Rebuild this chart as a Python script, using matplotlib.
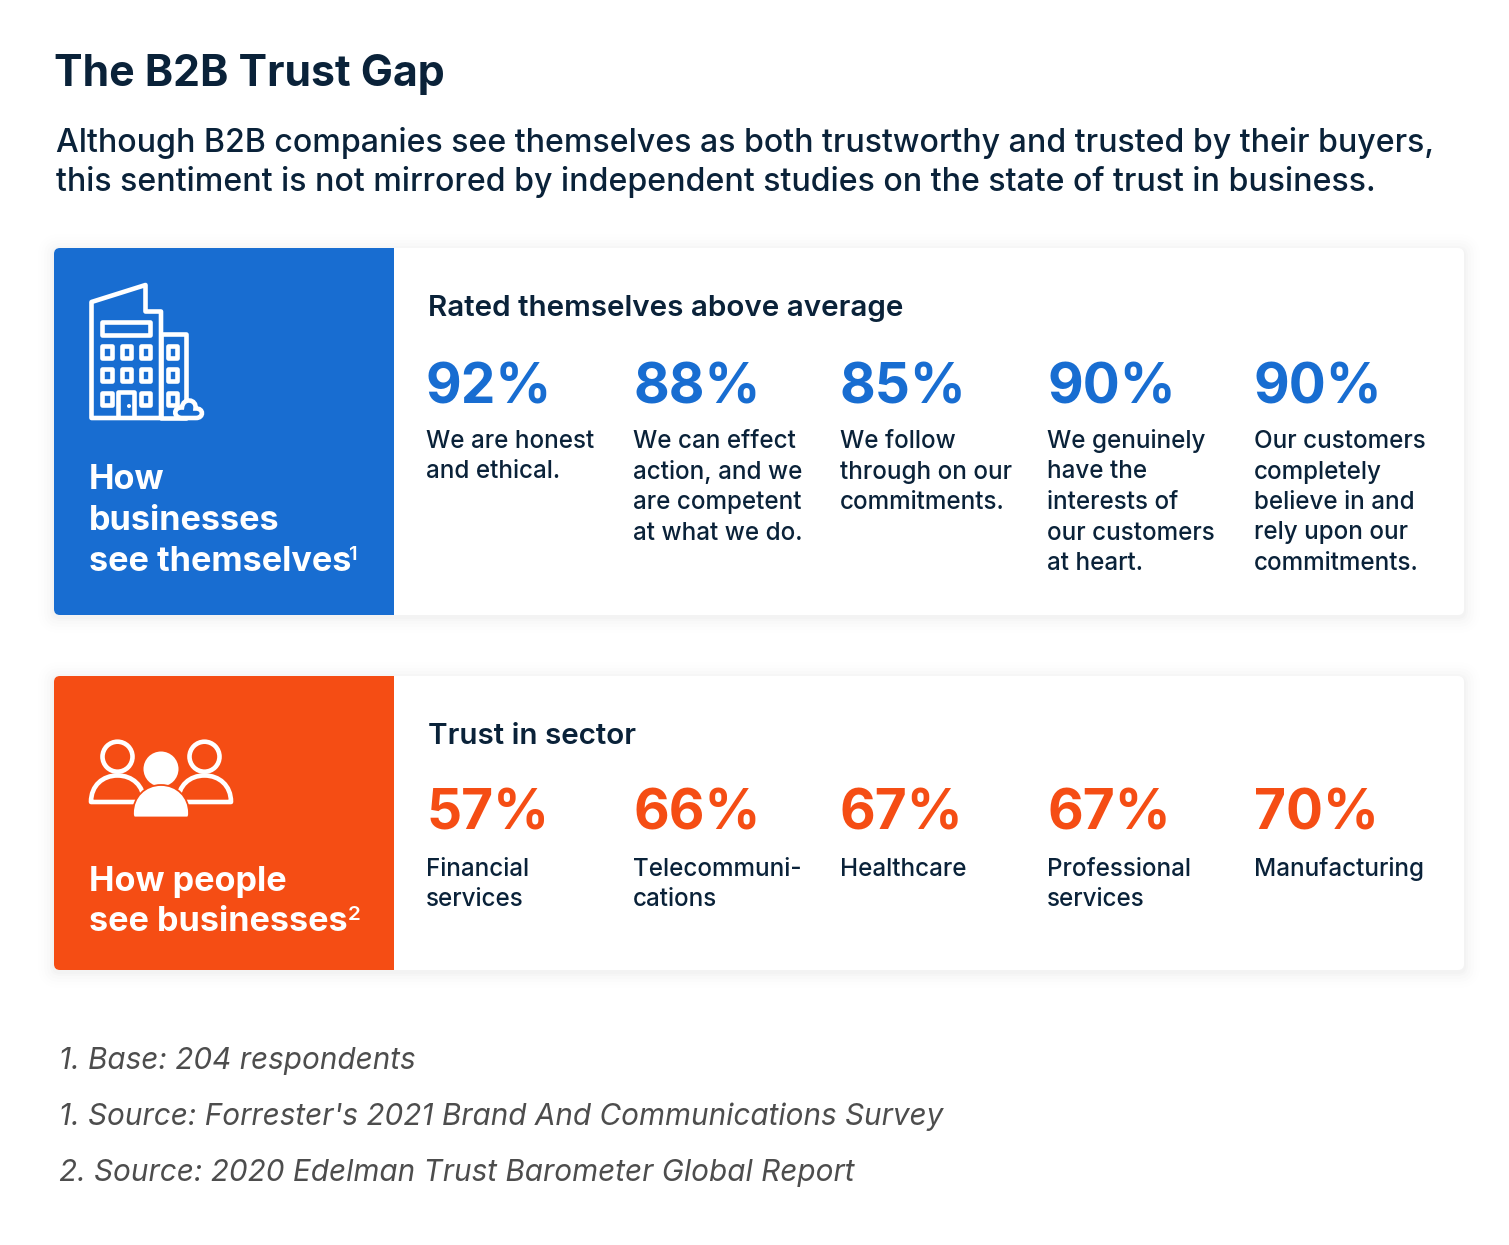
import matplotlib
matplotlib.use("Agg")
import matplotlib.pyplot as plt
from matplotlib.patches import FancyBboxPatch, Rectangle, Circle, PathPatch, Polygon
from matplotlib.path import Path

plt.rcParams['font.family'] = ['Inter', 'DejaVu Sans']

W, H = 1509, 1245
NAVY = "#0a2239"
BLUE = "#186dd1"
ORANGE = "#f54d14"
GREY = "#4d4d4d"

title = "The B2B Trust Gap"
intro = ["Although B2B companies see themselves as both trustworthy and trusted by their buyers,",
         "this sentiment is not mirrored by independent studies on the state of trust in business."]

self_heading = "Rated themselves above average"
self_values = [92, 88, 85, 90, 90]
self_labels = [["We are honest", "and ethical."],
               ["We can effect", "action, and we", "are competent", "at what we do."],
               ["We follow", "through on our", "commitments."],
               ["We genuinely", "have the", "interests of", "our customers", "at heart."],
               ["Our customers", "completely", "believe in and", "rely upon our", "commitments."]]

sector_heading = "Trust in sector"
sector_values = [57, 66, 67, 67, 70]
sector_labels = [["Financial", "services"],
                 ["Telecommuni-", "cations"],
                 ["Healthcare"],
                 ["Professional", "services"],
                 ["Manufacturing"]]

self_side = ["How", "businesses", "see themselves"]
people_side = ["How people", "see businesses"]
notes = ["1. Base: 204 respondents",
         "1. Source: Forrester's 2021 Brand And Communications Survey",
         "2. Source: 2020 Edelman Trust Barometer Global Report"]

COL_X = [426, 633, 840, 1047, 1254]


def px(size):
    return size * 0.72


def card(ax, top, bottom, color):
    x0, x1 = 54, 1464
    # soft shadow
    for grow, alpha in [(16, 0.004), (13, 0.005), (10, 0.007), (7, 0.009), (4, 0.011), (2, 0.013)]:
        ax.add_patch(FancyBboxPatch((x0 - grow, top - grow + 2), x1 - x0 + 2 * grow, bottom - top + 2 * grow,
                                    boxstyle="round,pad=0,rounding_size=%g" % (6 + grow),
                                    fc="black", ec="none", alpha=alpha))
    ax.add_patch(FancyBboxPatch((x0, top), x1 - x0, bottom - top, boxstyle="round,pad=0,rounding_size=6",
                                fc="white", ec="none"))
    # coloured left part, square on the right side
    clip = Rectangle((x0, top), 339.6, bottom - top, transform=ax.transData)
    side = FancyBboxPatch((x0, top), 400, bottom - top, boxstyle="round,pad=0,rounding_size=6", fc=color, ec="none")
    ax.add_patch(side)
    side.set_clip_path(clip)


def stats(ax, heading, values, labels, color, y_head, y_val, y_label):
    ax.text(428, y_head, heading, fontsize=px(29.6), fontweight=600, color=NAVY, va="baseline")
    for x, val, lines in zip(COL_X, values, labels):
        ax.text(x, y_val, f"{val}%", fontsize=px(55), fontweight=700, color=color, va="baseline")
        for i, line in enumerate(lines):
            ax.text(x, y_label + i * 30.5, line, fontsize=px(24.2), fontweight=500, color=NAVY, va="baseline")


def building(ax, c):
    lw = px(4.6)
    kw = dict(fc="none", ec="white", lw=lw, joinstyle="round")
    ax.add_patch(Polygon([(91.5, 302), (145.5, 285), (145.5, 311.5), (161, 311.5), (161, 418), (91.5, 418)], closed=True, **kw))
    ax.add_patch(Polygon([(161, 334), (186, 334), (186, 412), (186, 418), (161, 418)], closed=True, **kw))
    ax.add_patch(Rectangle((102, 322), 48, 13, **kw))
    for wx in [102.2, 121.5, 140.8]:
        for wy in [346, 369.2, 393.2]:
            if wx == 121.5 and wy == 393.2:
                continue
            ax.add_patch(Rectangle((wx, wy), 9.6, 12, **kw))
    for wy in [346, 369.2, 393.2]:
        ax.add_patch(Rectangle((167.5, wy), 9.6, 12, **kw))
    ax.add_patch(Polygon([(118, 418), (118, 392), (134, 392), (134, 418)], closed=False, **kw))
    ax.add_patch(Circle((129, 406), 2, fc="white", ec="none"))
    # little cloud
    verts = [(182, 418), (173, 418), (173, 407), (182, 407.5),
             (183, 397), (197, 399), (195.5, 408.5),
             (204, 408), (204, 418), (196, 418), (182, 418)]
    codes = [Path.MOVETO, Path.CURVE4, Path.CURVE4, Path.CURVE4,
             Path.CURVE4, Path.CURVE4, Path.CURVE4,
             Path.CURVE4, Path.CURVE4, Path.CURVE4, Path.CLOSEPOLY]
    ax.add_patch(PathPatch(Path(verts, codes), fc=c, ec="white", lw=lw, zorder=3))


def dome(cx, r, bottom):
    top = bottom - r
    k = 0.5523 * r
    verts = [(cx - r, bottom), (cx - r, top + r - k - 2), (cx - k, top), (cx, top),
             (cx + k, top), (cx + r, top + r - k - 2), (cx + r, bottom), (cx - r, bottom)]
    codes = [Path.MOVETO, Path.CURVE4, Path.CURVE4, Path.CURVE4,
             Path.CURVE4, Path.CURVE4, Path.CURVE4, Path.CLOSEPOLY]
    return Path(verts, codes)


def people(ax, c):
    lw = px(4.6)
    for cx in [117.5, 204.5]:
        ax.add_patch(Circle((cx, 756.7), 15, fc="none", ec="white", lw=lw))
        ax.add_patch(PathPatch(dome(cx, 26.5, 802), fc="none", ec="white", lw=lw, joinstyle="round"))
    ax.add_patch(Circle((161, 769), 17.5, fc="white", ec="none", zorder=3))
    # centre body: one flared dome with rounded foot, thin gap to the head
    verts = [(135, 817.5), (133, 817.5), (133, 815), (133, 813),
             (133, 797), (145, 785), (161, 785),
             (177, 785), (189, 797), (189, 813),
             (189, 815), (189, 817.5), (187, 817.5), (135, 817.5)]
    codes = [Path.MOVETO, Path.CURVE4, Path.CURVE4, Path.CURVE4,
             Path.CURVE4, Path.CURVE4, Path.CURVE4,
             Path.CURVE4, Path.CURVE4, Path.CURVE4,
             Path.CURVE4, Path.CURVE4, Path.CURVE4, Path.CLOSEPOLY]
    ax.add_patch(PathPatch(Path(verts, codes), fc="white", ec=c, lw=px(1.8), zorder=4))


fig = plt.figure(figsize=(W / 100, H / 100), dpi=100, facecolor="white")
ax = fig.add_axes([0, 0, 1, 1])
ax.set_xlim(0, W)
ax.set_ylim(H, 0)
ax.axis("off")

ax.text(54, 86, title, fontsize=px(42.8), fontweight=700, color=NAVY, va="baseline")
for i, line in enumerate(intro):
    ax.text(56, 152 + i * 39, line, fontsize=px(32.1), fontweight=500, color=NAVY, va="baseline")

card(ax, 248, 615, BLUE)
card(ax, 676, 970, ORANGE)

stats(ax, self_heading, self_values, self_labels, BLUE, 316, 403, 448)
stats(ax, sector_heading, sector_values, sector_labels, ORANGE, 744, 830, 876)

building(ax, BLUE)
people(ax, ORANGE)

for i, line in enumerate(self_side):
    ax.text(89, 489 + i * 41, line, fontsize=px(34.2), fontweight=700, color="white", va="baseline")
ax.text(349, 559.5, "1", fontsize=px(20.5), fontweight=600, color="white", va="baseline")
for i, line in enumerate(people_side):
    ax.text(89, 891 + i * 40, line, fontsize=px(34.2), fontweight=700, color="white", va="baseline")
ax.text(347.5, 920, "2", fontsize=px(20.5), fontweight=600, color="white", va="baseline")

for i, line in enumerate(notes):
    ax.text(59, 1069 + i * 56, line, fontsize=px(29.7), style="italic", color=GREY, va="baseline")

fig.savefig("out.png", dpi=100, facecolor="white")
